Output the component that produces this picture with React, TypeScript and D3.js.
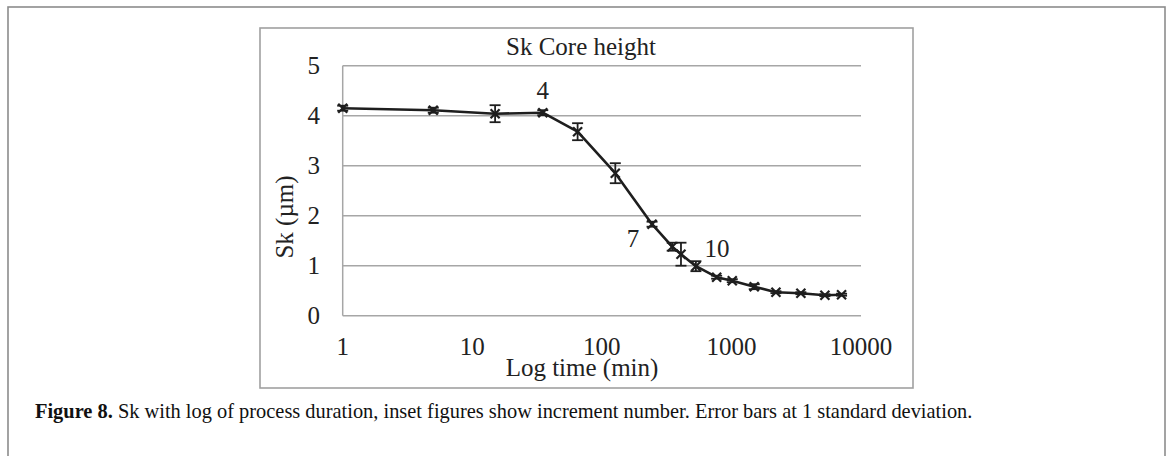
import React from "react";
import * as d3 from "d3";

const times = [1, 5, 15, 35, 65, 127, 244, 349, 408, 532, 769, 1015, 1500, 2205, 3435, 5265, 7080];
const skValues = [4.15, 4.11, 4.04, 4.06, 3.68, 2.85, 1.83, 1.38, 1.23, 0.99, 0.77, 0.7, 0.58, 0.47, 0.45, 0.41, 0.42];
const skErrors = [0.05, 0.05, 0.17, 0.05, 0.17, 0.2, 0.05, 0.08, 0.23, 0.1, 0.03, 0.03, 0.05, 0.02, 0.02, 0.02, 0.02];
const xTicks = [1, 10, 100, 1000, 10000];
const yTicks = [0, 1, 2, 3, 4, 5];
const insetLabels = [
  { index: 3, text: "4", dx: 0, dy: -14 },
  { index: 6, text: "7", dx: -19, dy: 23 },
  { index: 9, text: "10", dx: 21, dy: -9 },
];
const titleText = "Sk Core height";
const xLabel = "Log time (min)";
const yLabel = "Sk (µm)";
const captionBold = "Figure 8.";
const captionText = " Sk with log of process duration, inset figures show increment number. Error bars at 1 standard deviation.";

const W = 1168;
const H = 456;
const plot = { left: 342.7, right: 861, top: 65.7, bottom: 315.7 };
const serif = "'Liberation Serif', 'Times New Roman', serif";

export default function App() {
  const x = d3.scaleLog().domain([1, 10000]).range([plot.left, plot.right]);
  const y = d3.scaleLinear().domain([0, 5]).range([plot.bottom, plot.top]);
  const pts = times.map((t, i) => ({ t, v: skValues[i], e: skErrors[i] }));
  const line = d3
    .line<{ t: number; v: number }>()
    .x((d) => x(d.t))
    .y((d) => y(d.v));
  const grid = "#a6a6a6";
  const ink = "#1e1e1e";
  const cap = 5.5;
  const m = 4.5;

  return (
    <svg
      width={W}
      height={H}
      style={{ position: "absolute", left: 0, top: 0, background: "#fff" }}
      fontFamily={serif}
    >
      <rect x={8} y={7} width={1157} height={480} fill="none" stroke="#8c8c8c" strokeWidth={1.6} />
      <rect x={260} y={28} width={653} height={360} fill="#fff" stroke="#a0a0a0" strokeWidth={1.6} />

      {yTicks.map((v) => (
        <line key={"g" + v} x1={plot.left} x2={plot.right} y1={y(v)} y2={y(v)} stroke={grid} strokeWidth={1.5} />
      ))}
      <line x1={plot.left} x2={plot.left} y1={plot.top} y2={plot.bottom} stroke={grid} strokeWidth={1.5} />

      {yTicks.map((v) => (
        <text key={"yl" + v} x={320} y={y(v) + 8.5} textAnchor="end" fontSize={25} fill="#222">
          {v}
        </text>
      ))}
      {xTicks.map((t) => (
        <text key={"xl" + t} x={x(t)} y={355} textAnchor="middle" fontSize={25} fill="#222">
          {d3.format("d")(t)}
        </text>
      ))}

      <text x={581} y={55} textAnchor="middle" fontSize={25} fill="#222">
        {titleText}
      </text>
      <text x={582} y={376} textAnchor="middle" fontSize={25} fill="#222">
        {xLabel}
      </text>
      <text transform="translate(293,217) rotate(-90)" textAnchor="middle" fontSize={25} fill="#222">
        {yLabel}
      </text>

      <path d={line(pts) || ""} fill="none" stroke={ink} strokeWidth={2.6} strokeLinejoin="round" />

      {pts.map((d, i) => {
        const cx = x(d.t);
        const yt = y(d.v + d.e);
        const yb = y(d.v - d.e);
        const cy = y(d.v);
        return (
          <g key={"p" + i} stroke={ink} strokeWidth={1.8}>
            <line x1={cx} x2={cx} y1={yt} y2={yb} />
            <line x1={cx - cap} x2={cx + cap} y1={yt} y2={yt} />
            <line x1={cx - cap} x2={cx + cap} y1={yb} y2={yb} />
            <line x1={cx - m} x2={cx + m} y1={cy - m} y2={cy + m} strokeWidth={2.2} />
            <line x1={cx - m} x2={cx + m} y1={cy + m} y2={cy - m} strokeWidth={2.2} />
          </g>
        );
      })}

      {insetLabels.map((l) => (
        <text
          key={"il" + l.text}
          x={x(times[l.index]) + l.dx}
          y={y(skValues[l.index]) + l.dy}
          textAnchor="middle"
          fontSize={25}
          fill="#222"
        >
          {l.text}
        </text>
      ))}

      <text x={35} y={418} fontSize={20.4} fill="#111" fontFamily={serif}>
        <tspan fontWeight="bold">{captionBold}</tspan>
        <tspan>{captionText}</tspan>
      </text>
    </svg>
  );
}
